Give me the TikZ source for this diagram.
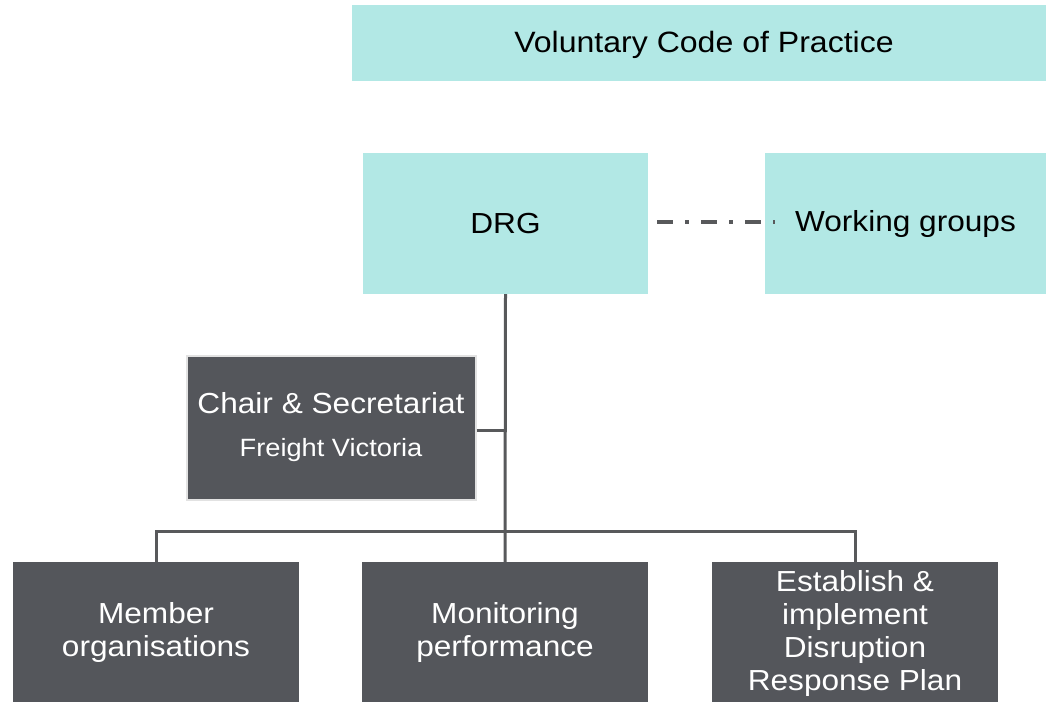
\documentclass[tikz,border=0pt]{standalone}
\usepackage{fontspec}
\setmainfont[FakeStretch=1.09]{Liberation Sans}
\definecolor{cyanbox}{HTML}{B2E8E5}
\definecolor{darkbox}{HTML}{54565B}
\definecolor{lineclr}{HTML}{58595B}
\definecolor{edgeclr}{HTML}{E2E2E2}
\begin{document}
\begin{tikzpicture}[x=1pt,y=-1pt,
  lightbox/.style={fill=cyanbox,draw=none,text=black,align=center,inner sep=0pt,font=\fontsize{29}{33}\selectfont},
  darkbox/.style={fill=darkbox,draw=none,text=white,align=center,inner sep=0pt,font=\fontsize{29}{33}\selectfont},
  conn/.style={draw=lineclr,line width=3pt},
  dashconn/.style={draw=lineclr,line width=3.5pt,dash pattern=on 16pt off 12pt on 4pt off 12pt}]
\useasboundingbox (0,0) rectangle (1046,702);
\node[lightbox,minimum width=694pt,minimum height=76pt] (vcp) at (699,43) {};
\node[text=black,inner sep=0pt,font=\fontsize{29.4}{33}\selectfont] (vcptxt) at (704,44.5) {Voluntary Code of Practice};
\node[lightbox,minimum width=285pt,minimum height=141pt] (drg) at (505.5,223.5) {DRG};
\node[lightbox,minimum width=281pt,minimum height=141pt] (wg) at (905.5,223.5) {Working groups};
\node[darkbox,draw=edgeclr,line width=2pt,minimum width=289pt,minimum height=144pt] (chair) at (331,427.5) {Chair \& Secretariat\\[10pt]{\fontsize{25}{28}\selectfont Freight Victoria}};
\node[darkbox,minimum width=286pt,minimum height=140pt] (mem) at (156,632) {Member\\organisations};
\node[darkbox,minimum width=286pt,minimum height=140pt] (mon) at (505,632) {Monitoring\\performance};
\node[darkbox,minimum width=286pt,minimum height=140pt,anchor=north] (est) at (855,562) {};
\node[text=white,align=center,font=\fontsize{29}{33}\selectfont,inner sep=0pt] (esttxt) at (855,633) {Establish \&\\implement\\Disruption\\Response Plan};
\coordinate (wgend) at (775,222);
\draw[dashconn] (657,222) -- (wgend);
\coordinate (bus) at (505,531);
\coordinate (chairj) at (505,430);
\draw[conn] (drg.south) -- (mon.north);
\draw[conn] (chair.east |- chairj) -- (chairj);
\draw[conn] (mem.north) -- (mem.north |- bus) -- (est.north |- bus) -- (est.north);
\end{tikzpicture}
\end{document}
